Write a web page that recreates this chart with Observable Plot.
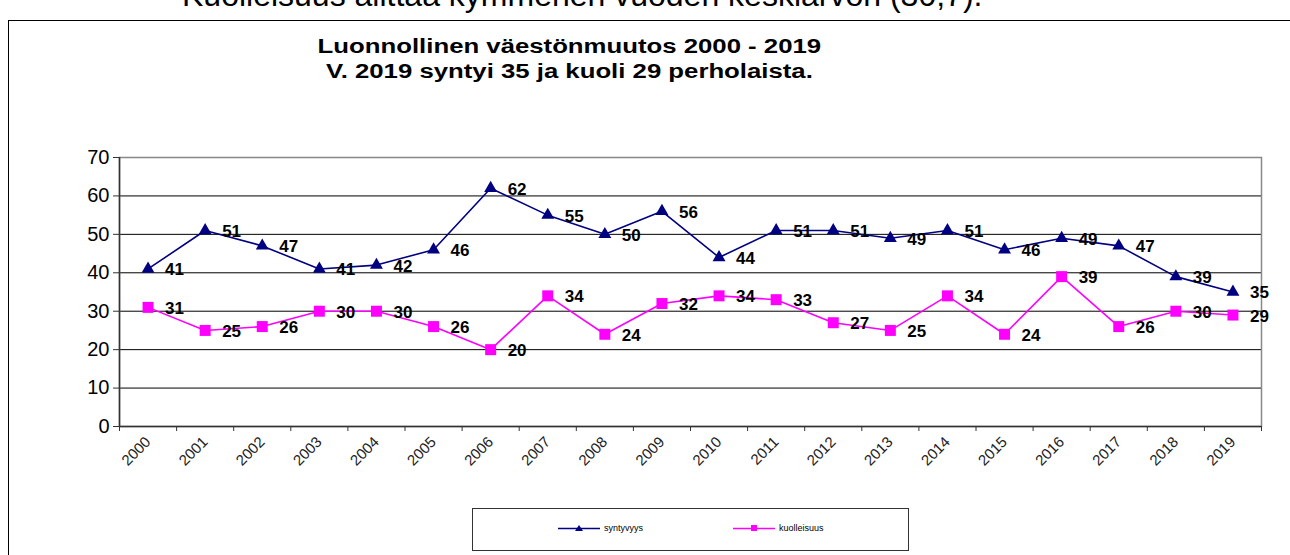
<!DOCTYPE html>
<html>
<head>
<meta charset="utf-8">
<script src="https://cdn.jsdelivr.net/npm/d3@7"></script>
<script src="https://cdn.jsdelivr.net/npm/@observablehq/plot@0.6"></script>
<style>
  html, body { margin: 0; padding: 0; background: #fff; overflow: hidden; }
  body { width: 1290px; height: 555px; position: relative; font-family: "Liberation Sans", Arial, sans-serif; }
  #chart { position: absolute; left: 0; top: 0; }
  .ov { position: absolute; }
  #toptext { left: 182px; top: -21px; font-size: 32px; line-height: 32px; color: #000; white-space: nowrap; }
  #box { left: 8px; top: 20px; width: 1400px; height: 600px; border: 1px solid #000; box-sizing: border-box; }
  #title { left: 270px; top: 34px; width: 600px; text-align: center; font-weight: bold; font-size: 19.5px; line-height: 25px; color: #000; transform: scaleX(1.32); transform-origin: 302px 0; }
  #legend { left: 472px; top: 508px; width: 437px; height: 43px; border: 1px solid #333; box-sizing: border-box; font-size: 9px; color: #000; }
  .li { position: absolute; top: 14px; display: flex; align-items: center; }
  .li span { margin-left: 4px; }
</style>
</head>
<body>
<div id="chart"></div>
<div class="ov" id="toptext">Kuolleisuus alittaa kymmenen vuoden keskiarvon (30,7).</div>
<div class="ov" id="box"></div>
<div class="ov" id="title">Luonnollinen väestönmuutos 2000 - 2019<br>V. 2019 syntyi 35 ja kuoli 29 perholaista.</div>
<div class="ov" id="legend"></div>
<script>
const years = [2000,2001,2002,2003,2004,2005,2006,2007,2008,2009,2010,2011,2012,2013,2014,2015,2016,2017,2018,2019];
const syntyvyys = [41,51,47,41,42,46,62,55,50,56,44,51,51,49,51,46,49,47,39,35];
const kuolleisuus = [31,25,26,30,30,26,20,34,24,32,34,33,27,25,34,24,39,26,30,29];
const yTicks = [0,10,20,30,40,50,60,70];
const seriesNames = ["syntyvyys", "kuolleisuus"];
const seriesColors = ["#000080", "#FF00FF"];

const births = years.map((y, i) => ({year: y, val: syntyvyys[i]}));
const deaths = years.map((y, i) => ({year: y, val: kuolleisuus[i]}));
const bounds = years.map(y => y - 0.5).concat([years[years.length - 1] + 0.5]);

const chart = Plot.plot({
  width: 1290,
  height: 555,
  marginLeft: 119,
  marginRight: 29,
  marginTop: 157,
  marginBottom: 129,
  style: {fontFamily: "'Liberation Sans', Arial, sans-serif", background: "#fff", color: "#000"},
  x: {type: "linear", domain: [years[0] - 0.5, years[years.length - 1] + 0.5], axis: null},
  y: {domain: [0, 70], axis: null},
  marks: [
    Plot.gridY(yTicks, {stroke: "#000", strokeOpacity: 1, strokeWidth: 1}),
    Plot.frame({stroke: "#888", strokeWidth: 1.5}),
    Plot.ruleX([bounds[0]], {stroke: "#333", strokeWidth: 1.5}),
    Plot.ruleY([0], {stroke: "#333", strokeWidth: 1.5}),
    Plot.axisY({ticks: yTicks, tickSize: 6, tickPadding: 4, fontSize: 20, fill: "#000", stroke: "#333", label: null}),
    Plot.axisX({ticks: bounds, tickSize: 5, tickFormat: () => "", stroke: "#333", label: null}),
    Plot.axisX({ticks: years, tickSize: 0, tickPadding: 13, tickRotate: -45, tickFormat: d => String(d), fontSize: 15, fill: "#222", label: null}),
    Plot.line(births, {x: "year", y: "val", stroke: seriesColors[0], strokeWidth: 1.6}),
    Plot.line(deaths, {x: "year", y: "val", stroke: seriesColors[1], strokeWidth: 1.6}),
    Plot.dot(births, {x: "year", y: "val", symbol: "triangle", fill: seriesColors[0], r: 4.8}),
    Plot.dot(deaths, {x: "year", y: "val", symbol: "square", fill: seriesColors[1], r: 6.2}),
    Plot.text(births, {x: "year", y: "val", text: d => String(d.val), dx: 17, dy: 1, textAnchor: "start", fontWeight: "bold", fontSize: 17, fill: "#000"}),
    Plot.text(deaths, {x: "year", y: "val", text: d => String(d.val), dx: 17, dy: 1, textAnchor: "start", fontWeight: "bold", fontSize: 17, fill: "#000"})
  ]
});
document.getElementById("chart").appendChild(chart);

// legend
const legend = document.getElementById("legend");
const lpos = [85, 260];
seriesNames.forEach((name, i) => {
  const item = document.createElement("div");
  item.className = "li";
  item.style.left = lpos[i] + "px";
  const sym = i === 0
    ? `<path d="M21,2 L25,8 L17,8 Z" fill="${seriesColors[i]}"/>`
    : `<rect x="18" y="2" width="6" height="6" fill="${seriesColors[i]}"/>`;
  item.innerHTML = `<svg width="42" height="10"><line x1="0" y1="5.5" x2="42" y2="5.5" stroke="${seriesColors[i]}" stroke-width="1.5"/>${sym}</svg><span>${name}</span>`;
  legend.appendChild(item);
});
</script>
</body>
</html>
